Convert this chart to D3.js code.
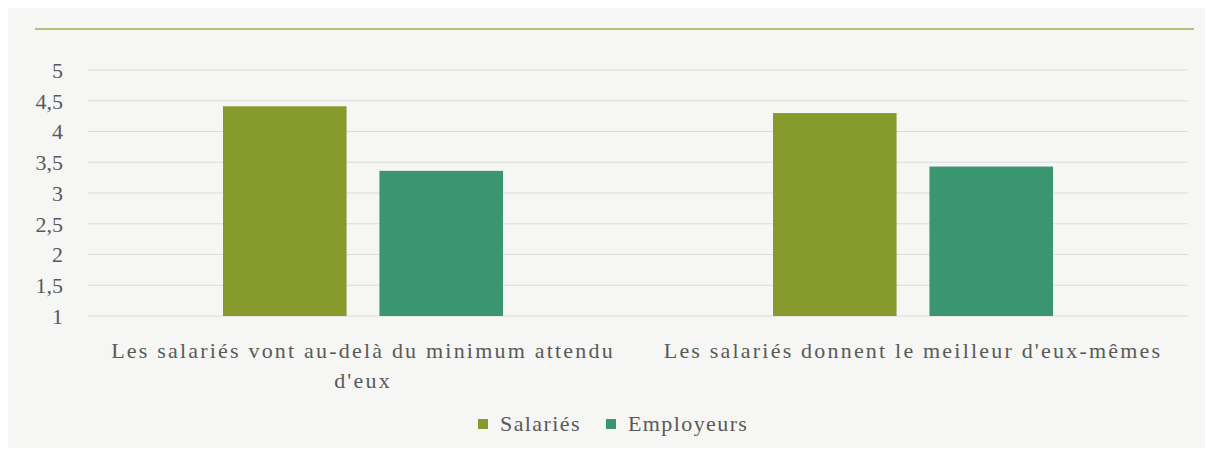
<!DOCTYPE html>
<html>
<head>
<meta charset="utf-8">
<script src="https://cdn.jsdelivr.net/npm/d3@7"></script>
<style>
  body { margin: 0; background: #fff; }
</style>
</head>
<body>
<div id="chart"></div>
<script>
// data
var categories = [
  ["Les salariés vont au-delà du minimum attendu", "d'eux"],
  ["Les salariés donnent le meilleur d'eux-mêmes"]
];
var series = ["Salariés", "Employeurs"];
var salaries = [4.41, 4.30];
var employeurs = [3.36, 3.43];
var yTicks = [1, 1.5, 2, 2.5, 3, 3.5, 4, 4.5, 5];
var colors = ["#869b2c", "#3a9670"];

var FONT = "Liberation Serif";
var W = 1213, H = 450;
var margin = {top: 70, right: 25, bottom: 134, left: 88},
    width = W - margin.left - margin.right,
    height = H - margin.top - margin.bottom;

var svg = d3.select("#chart")
  .append("svg")
  .attr("width", W)
  .attr("height", H);

// panel background
svg.append("rect")
  .attr("x", 8).attr("y", 8)
  .attr("width", W - 16).attr("height", H - 10)
  .attr("fill", "#f6f6f4");

// green rule on top
svg.append("line")
  .attr("x1", 35).attr("x2", 1194)
  .attr("y1", 29).attr("y2", 29)
  .attr("stroke", "#a3ad4a")
  .attr("stroke-width", 1.5);

var g = svg.append("g")
  .attr("transform", "translate(" + margin.left + "," + margin.top + ")");

var x0 = d3.scaleBand()
  .domain(d3.range(categories.length))
  .range([0, width]);

var x1 = d3.scaleBand()
  .domain(series)
  .range([x0.bandwidth() / 2 - 140, x0.bandwidth() / 2 + 140])
  .paddingInner(0.21);

var y = d3.scaleLinear()
  .domain([1, 5])
  .range([height, 0]);

// gridlines
g.append("g")
  .selectAll("line")
  .data(yTicks)
  .enter().append("line")
    .attr("x1", 0).attr("x2", width)
    .attr("y1", d => y(d)).attr("y2", d => y(d))
    .attr("stroke", "#dcdcdc")
    .attr("stroke-width", 1);

// y axis
var yAxis = g.append("g")
  .attr("font-family", FONT)
  .call(d3.axisLeft(y)
    .tickValues(yTicks)
    .tickSize(0)
    .tickPadding(25)
    .tickFormat(d => String(d).replace(".", ",")));
yAxis.select(".domain").remove();
yAxis.selectAll("text")
  .attr("font-family", FONT)
  .attr("fill", "#595959")
  .style("font-size", "22px")
  .attr("dy", "0.33em");

// bars
var rows = categories.map(function(c, i) {
  return [{s: series[0], v: salaries[i]}, {s: series[1], v: employeurs[i]}];
});

g.selectAll(".cat")
  .data(rows)
  .enter().append("g")
    .attr("class", "cat")
    .attr("transform", (d, i) => "translate(" + x0(i) + ",0)")
  .selectAll("rect")
  .data(d => d)
  .enter().append("rect")
    .attr("x", d => x1(d.s))
    .attr("width", x1.bandwidth())
    .attr("y", d => y(d.v))
    .attr("height", d => y(1) - y(d.v))
    .attr("fill", (d, i) => colors[i]);

// category labels
var labels = g.selectAll(".clabel")
  .data(categories)
  .enter().append("text")
    .attr("class", "clabel")
    .attr("text-anchor", "middle")
    .attr("font-family", FONT)
    .attr("fill", "#595959")
    .attr("x", (d, i) => x0(i) + x0.bandwidth() / 2)
    .attr("y", height + 42)
    .style("font-size", "22px")
    .style("letter-spacing", "2.2px");

labels.selectAll("tspan")
  .data(d => d)
  .enter().append("tspan")
    .attr("x", function() { return this.parentNode.getAttribute("x"); })
    .attr("dy", (d, i) => i == 0 ? 0 : 30)
    .text(d => d);

// legend
var legend = svg.append("g")
  .attr("transform", "translate(478,424)");

var lx = [0, 128];
var item = legend.selectAll(".item")
  .data(series)
  .enter().append("g")
    .attr("class", "item")
    .attr("transform", (d, i) => "translate(" + lx[i] + ",0)");

item.append("rect")
  .attr("x", 0).attr("y", -5)
  .attr("width", 10).attr("height", 10)
  .attr("fill", (d, i) => colors[i]);

item.append("text")
  .attr("x", 22)
  .attr("dy", "0.33em")
  .attr("font-family", FONT)
  .attr("fill", "#595959")
  .style("font-size", "22px")
  .style("letter-spacing", "1.4px")
  .text(d => d);
</script>
</body>
</html>
